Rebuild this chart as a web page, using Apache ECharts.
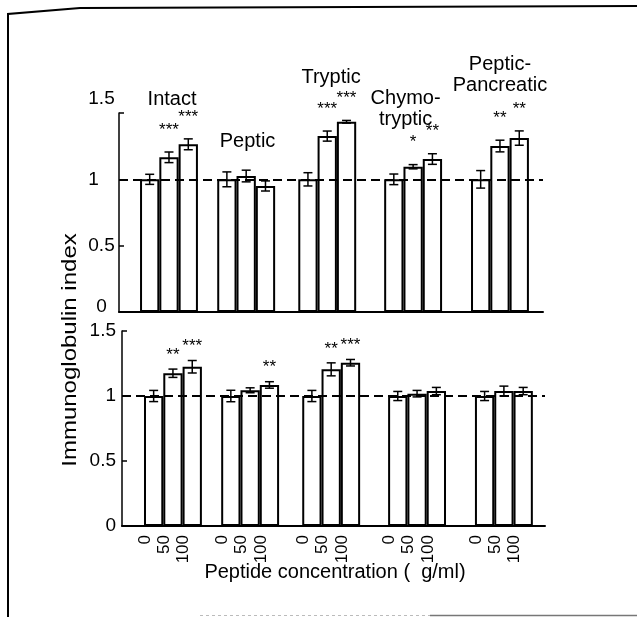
<!DOCTYPE html>
<html><head><meta charset="utf-8">
<script src="https://cdn.jsdelivr.net/npm/echarts@6/dist/echarts.min.js"></script>
<style>html,body{margin:0;padding:0;background:#fff}#c{width:637px;height:617px}</style>
</head><body><div id="c"></div>
<script>
// ---- data ----
const groups = ['Intact', 'Peptic', 'Tryptic', 'Chymo-\ntryptic', 'Peptic-\nPancreatic'];
const concentrations = ['0', '50', '100'];
const yTicks = [0, 0.5, 1, 1.5];
const topValues    = [1.00, 1.166, 1.264, 1.00, 1.025, 0.950, 1.00, 1.326, 1.434, 1.00, 1.095, 1.153, 1.00, 1.251, 1.311];
const topErrors    = [0.038, 0.040, 0.041, 0.056, 0.044, 0.038, 0.050, 0.038, 0.010, 0.040, 0.016, 0.040, 0.066, 0.044, 0.054];
const topStars     = ['', '***', '***', '', '', '', '', '***', '***', '', '*', '**', '', '**', '**'];
const bottomValues = [1.00, 1.175, 1.225, 1.00, 1.044, 1.085, 1.00, 1.205, 1.256, 1.00, 1.018, 1.038, 1.00, 1.038, 1.038];
const bottomErrors = [0.043, 0.032, 0.048, 0.044, 0.019, 0.025, 0.043, 0.050, 0.025, 0.035, 0.025, 0.028, 0.035, 0.038, 0.028];
const bottomStars  = ['', '**', '***', '', '', '**', '', '**', '***', '', '', '', '', '', ''];
const referenceLevel = 1;

// ---- layout ----
const FONT = '"Liberation Sans", Arial, Helvetica, sans-serif';
const groupStart = [0, 4, 8.2, 12.65, 17.15];           // group offsets in bar-slot units
const labelShift = -0.44;
const groupLabelPos = [[1.66, 1.605], [5.57, 1.289], [9.9, 1.771], [13.76, 1.534], [18.65, 1.786]];

function barX(i) { return groupStart[Math.floor(i / 3)] + (i % 3) + 0.5; }
const labelVals = topValues.map((_, i) => +(barX(i) + labelShift).toFixed(4));

const panels = [
  { values: topValues, errors: topErrors, stars: topStars, starOffset: 25 },
  { values: bottomValues, errors: bottomErrors, stars: bottomStars, starOffset: 17 }
];

const chart = echarts.init(document.getElementById('c'), null, { renderer: 'canvas' });

const series = [];
panels.forEach((p, k) => {
  series.push({
    type: 'bar', xAxisIndex: k, yAxisIndex: k, z: 2,
    data: p.values.map((v, i) => [barX(i), v]),
    barWidth: 19.3,
    itemStyle: { color: '#fff', borderColor: '#000', borderWidth: 2 },
    emphasis: { disabled: true },
    markLine: {
      silent: true, symbol: 'none', label: { show: false },
      lineStyle: { color: '#000', width: 2, type: [9, 5] },
      data: [{ yAxis: referenceLevel }]
    }
  });
  series.push({
    type: 'custom', xAxisIndex: k, yAxisIndex: k, z: 5,
    data: p.values.map((v, i) => [barX(i), v, p.errors[i]]),
    renderItem: (params, api) => {
      const x = api.value(0), y = api.value(1), e = api.value(2);
      const t = api.coord([x, y + e]), b = api.coord([x, y - e]);
      const cx = t[0];
      const ls = { stroke: '#000', lineWidth: 1.5 };
      const ch = [
        { type: 'line', shape: { x1: cx, y1: t[1], x2: cx, y2: b[1] }, style: ls },
        { type: 'line', shape: { x1: cx - 4.5, y1: t[1], x2: cx + 4.5, y2: t[1] }, style: ls },
        { type: 'line', shape: { x1: cx - 4.5, y1: b[1], x2: cx + 4.5, y2: b[1] }, style: ls }
      ];
      const s = p.stars[params.dataIndex];
      if (s) ch.push({ type: 'text', style: { text: s, x: cx, y: t[1] - p.starOffset + 3, align: 'center', verticalAlign: 'middle', fontSize: 17, fontFamily: FONT, fill: '#000' } });
      return { type: 'group', children: ch };
    }
  });
});
series.push({
  type: 'custom', xAxisIndex: 0, yAxisIndex: 0, z: 6,
  data: groupLabelPos,
  renderItem: (params, api) => {
    const pt = api.coord([api.value(0), api.value(1)]);
    return { type: 'text', style: { text: groups[params.dataIndex], x: pt[0], y: pt[1], align: 'center', verticalAlign: 'middle', fontSize: 20, lineHeight: 21, fontFamily: FONT, fill: '#000' } };
  }
});

const axisLineStyle = { color: '#000', width: 2 };
function yAxisCfg(k) {
  const top = k === 0;
  return {
    gridIndex: k, type: 'value', min: 0, max: 1.5, interval: 0.5,
    axisLine: { show: true, onZero: false, lineStyle: { color: '#000', width: 1.5 } },
    axisTick: { show: true, inside: true, length: 5, lineStyle: { color: '#000', width: 1.5 } },
    splitLine: { show: false },
    axisLabel: top ? {
      align: 'center', margin: 17.5, color: '#000', fontSize: 19, fontFamily: FONT,
      formatter: v => {
        const s = String(v);
        if (v === 1.5) return '{hi|' + s + '}';
        if (v === 1) return '{one|' + s + '}';
        if (v === 0) return '{zero|' + s + '}';
        return '{n|' + s + '}';
      },
      rich: {
        n: { fontSize: 19, fontFamily: FONT, color: '#000' },
        hi: { fontSize: 19, fontFamily: FONT, color: '#000', padding: [0, 0, 28, 0] },
        one: { fontSize: 19, fontFamily: FONT, color: '#000', padding: [0, 16, 0, 0] },
        zero: { fontSize: 19, fontFamily: FONT, color: '#000', padding: [0, 0, 10, 0] }
      }
    } : {
      margin: 6, color: '#000', fontSize: 19, fontFamily: FONT, formatter: v => String(v)
    }
  };
}

chart.setOption({
  animation: false,
  backgroundColor: '#fff',
  grid: [
    { left: 119, top: 113, width: 424, height: 199 },
    { left: 122, top: 331, width: 423, height: 195 }
  ],
  xAxis: [
    { gridIndex: 0, type: 'value', min: -1.09, max: 20.88,
      axisLine: { show: true, onZero: false, lineStyle: axisLineStyle },
      axisTick: { show: false }, axisLabel: { show: false }, splitLine: { show: false } },
    { gridIndex: 1, type: 'value', min: -1.14, max: 20.78,
      axisLine: { show: true, onZero: false, lineStyle: axisLineStyle },
      axisTick: { show: false }, splitLine: { show: false },
      axisLabel: {
        customValues: labelVals, rotate: 90, margin: 9, color: '#000', fontSize: 17, fontFamily: FONT,
        formatter: val => {
          const i = labelVals.findIndex(v => Math.abs(v - val) < 1e-3);
          return i < 0 ? '' : concentrations[i % 3];
        }
      } }
  ],
  yAxis: [yAxisCfg(0), yAxisCfg(1)],
  series: series,
  graphic: [
    { type: 'text', x: 70, y: 350, rotation: Math.PI / 2, scaleX: 1.2,
      style: { text: 'Immunoglobulin index', x: 0, y: 0, align: 'center', verticalAlign: 'middle', fontSize: 20, fontFamily: FONT, fill: '#000' } },
    { type: 'text', x: 335, y: 572,
      style: { text: 'Peptide concentration (  g/ml)', x: 0, y: 0, align: 'center', verticalAlign: 'middle', fontSize: 20, fontFamily: FONT, fill: '#000' } },
    { type: 'polyline', shape: { points: [[8, 617], [8, 14], [80, 8], [637, 6]] }, style: { stroke: '#000', lineWidth: 2, fill: null } },
    { type: 'line', shape: { x1: 200, y1: 615.5, x2: 430, y2: 615.5 }, style: { stroke: '#bbb', lineWidth: 1, lineDash: [3, 3] } },
    { type: 'line', shape: { x1: 430, y1: 615.5, x2: 637, y2: 615.5 }, style: { stroke: '#777', lineWidth: 1.5 } }
  ]
});
</script></body></html>
